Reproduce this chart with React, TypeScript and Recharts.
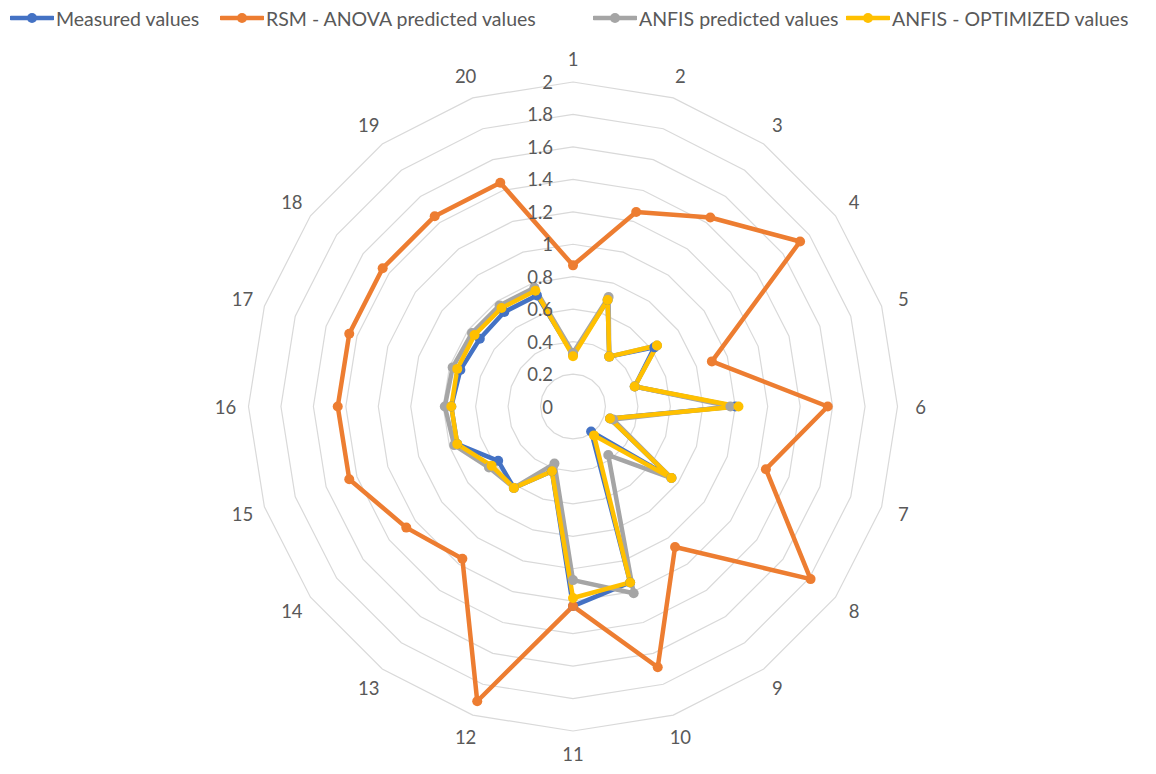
import { PolarAngleAxis, PolarGrid, PolarRadiusAxis, Radar, RadarChart } from "recharts";

const categories = ["1", "2", "3", "4", "5", "6", "7", "8", "9", "10", "11", "12", "13", "14", "15", "16", "17", "18", "19", "20"];
const measured = [0.32, 0.69, 0.38, 0.62, 0.4, 1.0, 0.24, 0.75, 0.19, 1.14, 1.23, 0.42, 0.62, 0.57, 0.75, 0.75, 0.73, 0.71, 0.72, 0.72];
const rsmAnova = [0.87, 1.26, 1.44, 1.73, 0.9, 1.57, 1.25, 1.81, 1.07, 1.69, 1.23, 1.91, 1.16, 1.27, 1.45, 1.45, 1.45, 1.45, 1.45, 1.45];
const anfis = [0.33, 0.71, 0.38, 0.64, 0.4, 0.97, 0.26, 0.75, 0.37, 1.21, 1.07, 0.37, 0.62, 0.64, 0.77, 0.79, 0.78, 0.77, 0.77, 0.77];
const anfisOptimized = [0.31, 0.69, 0.38, 0.64, 0.4, 1.02, 0.24, 0.75, 0.22, 1.14, 1.18, 0.42, 0.62, 0.62, 0.75, 0.75, 0.75, 0.75, 0.75, 0.75];
const radiusTicks = [0, 0.2, 0.4, 0.6, 0.8, 1, 1.2, 1.4, 1.6, 1.8, 2];

const series = [
  { key: "measured", name: "Measured values", color: "#4472C4", left: 10 },
  { key: "rsm", name: "RSM - ANOVA predicted values", color: "#ED7D31", left: 220 },
  { key: "anfis", name: "ANFIS predicted values", color: "#A5A5A5", left: 593 },
  { key: "optimized", name: "ANFIS - OPTIMIZED values", color: "#FFC000", left: 846 },
];

const data = categories.map((c, i) => ({
  cat: c,
  measured: measured[i],
  rsm: rsmAnova[i],
  anfis: anfis[i],
  optimized: anfisOptimized[i],
}));

const W = 1156;
const H = 774;
const CX = 573;
const CY = 406.5;
const R = 324.5;
const FONT = "Lato, 'Open Sans', sans-serif";
const TEXT = "#595959";

function RadiusTick(props: any) {
  const { x, y, payload } = props;
  return (
    <text x={x - 20} y={y} textAnchor="end" dominantBaseline="central" fill={TEXT} fontSize={18.5} fontFamily={FONT}>
      {payload.value}
    </text>
  );
}

function AngleTick(props: any) {
  const { x, y, payload } = props;
  return (
    <text x={x} y={y} textAnchor="middle" dominantBaseline="central" fill={TEXT} fontSize={18.5} fontFamily={FONT}>
      {payload.value}
    </text>
  );
}

// filled round marker in the series colour
const makeDot = (color: string) => (p: any) => (
  <circle key={`${color}-${p.index}`} cx={p.cx} cy={p.cy} r={5} fill={color} stroke="none" />
);

function LegendRow() {
  return (
    <div style={{ position: "absolute", top: 0, left: 0, width: W, height: 38, fontFamily: FONT, fontSize: 19.5, color: TEXT }}>
      {series.map((s) => (
        <div key={s.key} style={{ position: "absolute", left: s.left, top: 6, display: "flex", alignItems: "center", whiteSpace: "nowrap" }}>
          <svg width={44} height={24}>
            <line x1={1} y1={12} x2={43} y2={12} stroke={s.color} strokeWidth={4.5} strokeLinecap="round" />
            <circle cx={22} cy={12} r={5} fill={s.color} />
          </svg>
          <span style={{ marginLeft: 2 }}>{s.name}</span>
        </div>
      ))}
    </div>
  );
}

export default function App() {
  return (
    <div style={{ position: "absolute", left: 0, top: 0, width: W, height: H, background: "#fff", overflow: "hidden" }}>
      <RadarChart width={W} height={H} data={data} cx={CX} cy={CY} outerRadius={R} margin={{ top: 0, right: 0, bottom: 0, left: 0 }}>
        <PolarGrid gridType="polygon" radialLines={false} stroke="#D9D9D9" strokeWidth={1.2} />
        <PolarAngleAxis dataKey="cat" tick={<AngleTick />} tickLine={false} axisLine={false} tickSize={23} />
        <PolarRadiusAxis
          angle={90}
          domain={[0, 2]}
          ticks={radiusTicks as any}
          tickCount={11}
          tick={<RadiusTick />}
          axisLine={false}
          tickLine={false}
        />
        {series.map((s) => (
          <Radar
            key={s.key}
            name={s.name}
            dataKey={s.key}
            stroke={s.color}
            strokeWidth={4.5}
            strokeLinejoin="round"
            fill="none"
            fillOpacity={0}
            dot={makeDot(s.color)}
            isAnimationActive={false}
          />
        ))}
      </RadarChart>
      <LegendRow />
    </div>
  );
}
